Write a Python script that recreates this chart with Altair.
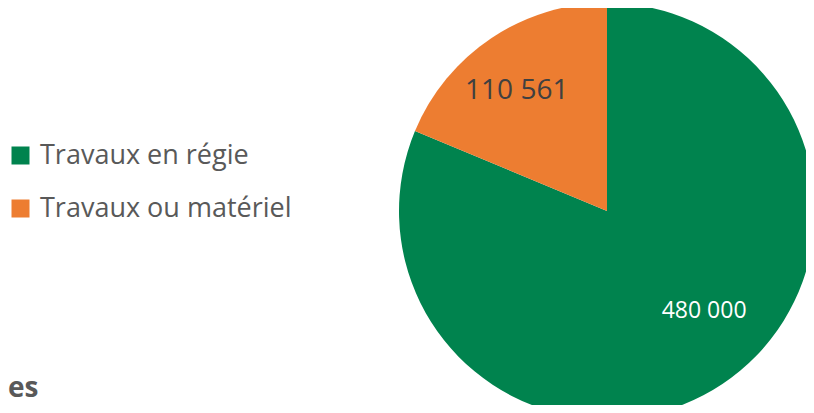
import altair as alt
import pandas as pd

categories = ["Travaux en régie", "Travaux ou matériel"]
values = [480000, 110561]
value_labels = ["480 000", "110 561"]
colors = ["#00834E", "#ED7D31"]
title_fragment = ["es"]

df = pd.DataFrame({"cat": categories, "val": values, "lab": value_labels, "idx": list(range(len(categories)))})

CX, CY, R = 599, 203, 208
FONT = "Open Sans"

base = alt.Chart(df).encode(
    theta=alt.Theta("val:Q", stack=True),
    order=alt.Order("idx:Q"),
    x=alt.value(CX),
    y=alt.value(CY),
)

pie = base.mark_arc(outerRadius=R).encode(
    color=alt.Color(
        "cat:N",
        scale=alt.Scale(domain=categories, range=colors),
        legend=alt.Legend(
            title=None,
            orient="none",
            legendX=-1,
            legendY=134,
            symbolType="square",
            symbolSize=324,
            symbolStrokeWidth=0,
            symbolOpacity=1,
            labelFontSize=27,
            labelFont=FONT,
            labelColor="#595959",
            rowPadding=25,
            labelOffset=6,
            padding=0,
            labelLimit=400,
        ),
    )
)

lab_green = base.mark_text(
    radius=139, fontSize=23, color="white", font=FONT, dx=20, dy=-16
).encode(text=alt.condition(alt.datum.idx == 0, "lab:N", alt.value("")))

lab_orange = base.mark_text(
    radius=150, fontSize=28, color="#404040", font=FONT, dx=-7, dy=5
).encode(text=alt.condition(alt.datum.idx == 1, "lab:N", alt.value("")))

frag = alt.Chart(pd.DataFrame({"t": title_fragment})).mark_text(
    align="left", baseline="alphabetic", fontSize=28, fontWeight="bold",
    font=FONT, color="#595959"
).encode(text="t:N", x=alt.value(0), y=alt.value(389))

chart = alt.layer(pie, lab_green, lab_orange, frag).properties(
    width=798, height=397, autosize=alt.AutoSizeParams(type="none"), padding=0
).configure_view(stroke=None)

chart.save("out.html", embed_options={"renderer": "svg", "actions": False})
